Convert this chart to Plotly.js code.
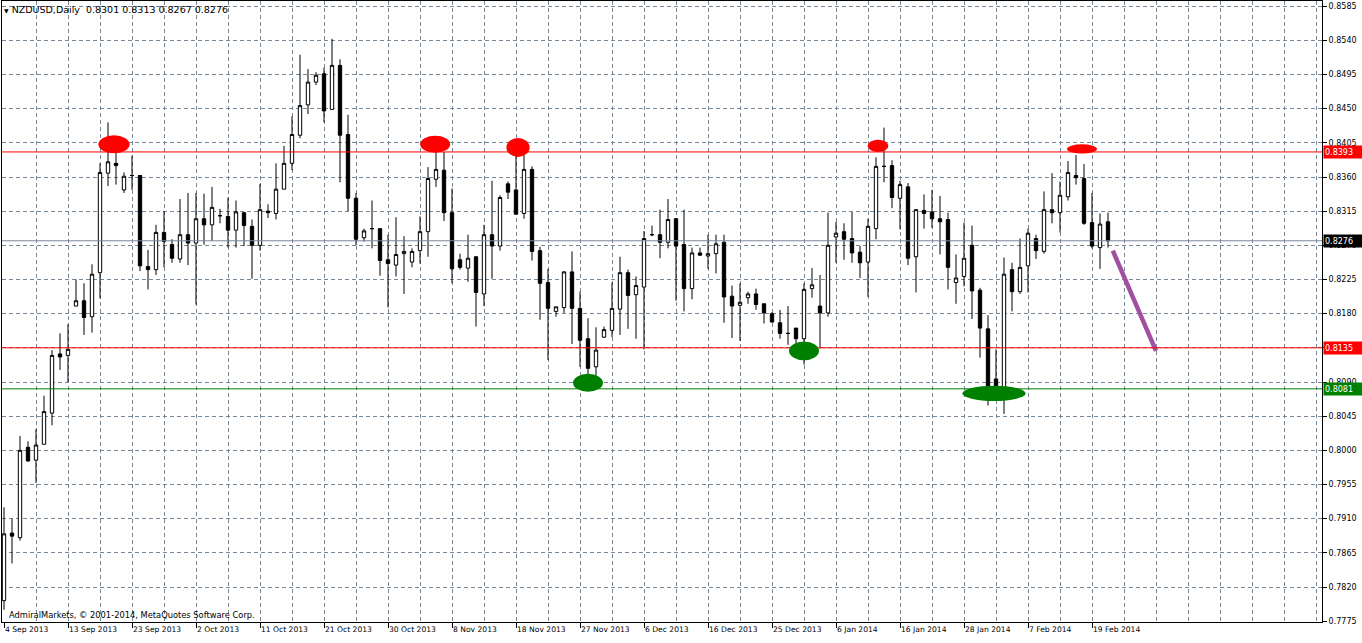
<!DOCTYPE html>
<html>
<head>
<meta charset="utf-8">
<script src="https://cdn.plot.ly/plotly-3.0.1.min.js"></script>
<style>html,body{margin:0;padding:0;background:#fff;}#chart{width:1362px;height:643px;}</style>
</head>
<body>
<div id="chart"></div>
<script>
// ---- Daily NZDUSD candles (bar index 0 = 4 Sep 2013) ----
const openP = [
0.7802,0.7891,0.7885,0.8004,0.7987,0.8008,0.8049,0.8127,0.8125,0.8190,
0.8197,0.8176,0.8234,0.8365,0.8378,0.8343,0.8362,0.8362,0.8242,0.8238,
0.8287,0.8271,0.8252,0.8284,0.8273,0.8305,0.8297,0.8309,0.8308,0.8290,
0.8313,0.8295,0.8270,0.8315,0.8312,0.8344,0.8378,0.8415,0.8455,0.8485,
0.8496,0.8449,0.8507,0.8416,0.8332,0.8280,0.8292,0.8292,0.8251,0.8244,
0.8259,0.8248,0.8263,0.8288,0.8357,0.8369,0.8313,0.8251,0.8240,0.8255,
0.8206,0.8284,0.8269,0.8351,0.8343,0.8312,0.8370,0.8263,0.8221,0.8183,
0.8188,0.8235,0.8187,0.8147,0.8110,0.8149,0.8158,0.8186,0.8234,0.8205,
0.8215,0.8284,0.8284,0.8274,0.8305,0.8271,0.8213,0.8260,0.8256,0.8259,
0.8274,0.8203,0.8191,0.8201,0.8206,0.8193,0.8180,0.8168,0.8154,0.8161,
0.8147,0.8213,0.8190,0.8181,0.8281,0.8288,0.8279,0.8261,0.8248,0.8292,
0.8374,0.8375,0.8332,0.8347,0.8255,0.8316,0.8314,0.8305,0.8304,0.8221,
0.8229,0.8270,0.8211,0.8160,0.8094,0.8079,0.8238,0.8209,0.8243,0.8279,
0.8262,0.8317,0.8313,0.8334,0.8362,0.8358,0.8300,0.8267,0.8301];
const highP = [
0.7925,0.7910,0.8019,0.8012,0.8028,0.8072,0.8132,0.8154,0.8166,0.8225,
0.8220,0.8245,0.8378,0.8432,0.8396,0.8366,0.8388,0.8362,0.8264,0.8297,
0.8315,0.8278,0.8331,0.8339,0.8339,0.8338,0.8347,0.8318,0.8333,0.8329,
0.8314,0.8304,0.8351,0.8324,0.8378,0.8401,0.8440,0.8521,0.8502,0.8498,
0.8504,0.8542,0.8515,0.8442,0.8339,0.8292,0.8329,0.8292,0.8284,0.8307,
0.8282,0.8266,0.8308,0.8373,0.8411,0.8393,0.8345,0.8259,0.8284,0.8255,
0.8297,0.8355,0.8336,0.8354,0.8409,0.8389,0.8374,0.8268,0.8239,0.8189,
0.8236,0.8262,0.8209,0.8174,0.8162,0.8163,0.8221,0.8255,0.8238,0.8229,
0.8289,0.8296,0.8317,0.8331,0.8306,0.8317,0.8267,0.8267,0.8284,0.8284,
0.8284,0.8217,0.8220,0.8209,0.8213,0.8193,0.8182,0.8185,0.8190,0.8161,
0.8220,0.8240,0.8231,0.8313,0.8301,0.8299,0.8314,0.8269,0.8305,0.8386,
0.8425,0.8382,0.8355,0.8352,0.8317,0.8337,0.8343,0.8335,0.8313,0.8258,
0.8300,0.8296,0.8214,0.8178,0.8133,0.8254,0.8247,0.8279,0.8292,0.8284,
0.8341,0.8365,0.8354,0.8381,0.8389,0.8377,0.8339,0.8312,0.8313];
const lowP = [
0.7790,0.7851,0.7881,0.7985,0.7957,0.8008,0.8033,0.8106,0.8090,0.8190,
0.8152,0.8155,0.8200,0.8348,0.8350,0.8339,0.8343,0.8236,0.8212,0.8231,
0.8241,0.8247,0.8247,0.8244,0.8192,0.8271,0.8276,0.8299,0.8267,0.8267,
0.8269,0.8226,0.8263,0.8306,0.8304,0.8344,0.8369,0.8411,0.8443,0.8481,
0.8432,0.8449,0.8353,0.8315,0.8270,0.8275,0.8266,0.8230,0.8188,0.8229,
0.8206,0.8241,0.8246,0.8255,0.8347,0.8302,0.8220,0.8238,0.8222,0.8163,
0.8190,0.8226,0.8263,0.8331,0.8311,0.8305,0.8250,0.8172,0.8119,0.8176,
0.8181,0.8140,0.8110,0.8082,0.8080,0.8148,0.8149,0.8152,0.8160,0.8147,
0.8133,0.8282,0.8253,0.8266,0.8197,0.8183,0.8199,0.8256,0.8239,0.8233,
0.8168,0.8148,0.8144,0.8193,0.8185,0.8167,0.8168,0.8147,0.8139,0.8139,
0.8113,0.8201,0.8134,0.8176,0.8247,0.8251,0.8247,0.8227,0.8202,0.8278,
0.8353,0.8319,0.8291,0.8244,0.8208,0.8292,0.8293,0.8258,0.8212,0.8193,
0.8216,0.8173,0.8122,0.8059,0.8067,0.8048,0.8183,0.8206,0.8208,0.8252,
0.8259,0.8299,0.8287,0.8329,0.8350,0.8297,0.8266,0.8239,0.8267];
const closeP = [
0.7890,0.7887,0.8000,0.7986,0.8007,0.8051,0.8125,0.8123,0.8133,0.8197,
0.8175,0.8232,0.8366,0.8380,0.8375,0.8361,0.8362,0.8243,0.8238,0.8287,
0.8275,0.8253,0.8284,0.8273,0.8305,0.8297,0.8320,0.8309,0.8290,0.8314,
0.8296,0.8270,0.8317,0.8313,0.8344,0.8378,0.8416,0.8454,0.8485,0.8494,
0.8447,0.8507,0.8415,0.8332,0.8278,0.8289,0.8292,0.8250,0.8246,0.8258,
0.8262,0.8262,0.8288,0.8358,0.8370,0.8313,0.8239,0.8241,0.8253,0.8208,
0.8284,0.8269,0.8333,0.8340,0.8311,0.8370,0.8262,0.8220,0.8187,0.8189,
0.8235,0.8187,0.8145,0.8108,0.8132,0.8159,0.8187,0.8234,0.8204,0.8217,
0.8279,0.8284,0.8274,0.8304,0.8269,0.8213,0.8260,0.8257,0.8259,0.8272,
0.8202,0.8190,0.8195,0.8206,0.8192,0.8181,0.8169,0.8154,0.8154,0.8147,
0.8212,0.8218,0.8181,0.8270,0.8286,0.8278,0.8260,0.8247,0.8295,0.8374,
0.8374,0.8333,0.8350,0.8253,0.8317,0.8312,0.8305,0.8301,0.8241,0.8227,
0.8253,0.8210,0.8161,0.8082,0.8080,0.8232,0.8209,0.8241,0.8286,0.8263,
0.8317,0.8313,0.8336,0.8366,0.8359,0.8299,0.8269,0.8298,0.8276];

// date labels, one every 8 bars
const dateLabels = ["4 Sep 2013","13 Sep 2013","23 Sep 2013","2 Oct 2013","11 Oct 2013",
  "21 Oct 2013","30 Oct 2013","8 Nov 2013","18 Nov 2013","27 Nov 2013","6 Dec 2013",
  "16 Dec 2013","25 Dec 2013","6 Jan 2014","16 Jan 2014","28 Jan 2014","7 Feb 2014","19 Feb 2014"];

// price scale ticks
const priceTicks = [0.7775,0.7820,0.7865,0.7910,0.7955,0.8000,0.8045,0.8090,0.8135,0.8180,
  0.8225,0.8270,0.8315,0.8360,0.8405,0.8450,0.8495,0.8540,0.8585];

// horizontal levels
const resistanceLevel = 0.8393;
const supportLevel = 0.8135;
const lowLevel = 0.8081;
const lastPrice = 0.8276;

// projected move (bar index, price)
const forecastX = [138.6, 144.0];
const forecastY = [0.8263, 0.8131];

// highlighted tops (red) and bottoms (green): center bar, center price
const topsX = [13.75, 53.9, 64.25, 109.25, 134.75];
const topsY = [0.8403, 0.8403, 0.8399, 0.8401, 0.8397];
const topsW = [3.9, 3.75, 2.9, 2.6, 3.75];
const topsH = [0.00237, 0.00224, 0.0025, 0.0016, 0.0012];
const botsX = [73, 100, 123.75];
const botsY = [0.8089, 0.8131, 0.8075];
const botsW = [3.75, 3.75, 7.9];
const botsH = [0.00237, 0.0025, 0.0020];

// ---- build ----
const idx = openP.map((_, i) => i);
const tickVals = dateLabels.map((_, k) => k * 8);
const gridVals = [];
for (let v = 4; v <= 164; v += 4) gridVals.push(v);
// the price tag of the support level sits exactly on its own scale label
const priceText = priceTicks.map(v => (Math.abs(v - supportLevel) < 1e-6 ? '' : v.toFixed(4)));

const GRID = '#778899';
const traces = [
  {
    type: 'candlestick', x: idx, open: openP, high: highP, low: lowP, close: closeP,
    increasing: {line: {color: '#000', width: 1}, fillcolor: '#fff'},
    decreasing: {line: {color: '#000', width: 1}, fillcolor: '#000'},
    whiskerwidth: 0, hoverinfo: 'skip', showlegend: false
  },
  {
    type: 'scatter', mode: 'lines', x: forecastX, y: forecastY, xaxis: 'x2',
    line: {color: '#A0509F', width: 4.5}, hoverinfo: 'skip', showlegend: false
  }
];

const shapes = [];
function hline(y, color) {
  shapes.push({type: 'line', xref: 'paper', x0: 0, x1: 1, yref: 'y', y0: y, y1: y,
    line: {color: color, width: 1}, layer: 'above'});
}
hline(lastPrice, '#778899');
hline(resistanceLevel, '#FF0000');
hline(supportLevel, '#FF0000');
hline(lowLevel, '#008000');
function ell(cx, cy, w, h, color) {
  shapes.push({type: 'circle', xref: 'x', yref: 'y', x0: cx - w / 2, x1: cx + w / 2,
    y0: cy - h / 2, y1: cy + h / 2, fillcolor: color, line: {color: color, width: 0}, layer: 'above'});
}
topsX.forEach((c, i) => ell(c, topsY[i], topsW[i], topsH[i], '#FF0000'));
botsX.forEach((c, i) => ell(c, botsY[i], botsW[i], botsH[i], '#008000'));

const annotations = [];
function priceTag(y, bg) {
  annotations.push({xref: 'paper', x: 1, xanchor: 'left', xshift: 1, yref: 'y', y: y, yanchor: 'middle',
    text: y.toFixed(4), showarrow: false, bgcolor: bg, borderpad: 1, width: 36, height: 10, align: 'left',
    font: {family: 'DejaVu Sans', size: 8, color: '#fff'}});
}
priceTag(resistanceLevel, '#FF0000');
priceTag(lastPrice, '#000000');
priceTag(supportLevel, '#FF0000');
priceTag(lowLevel, '#008000');
annotations.push({xref: 'paper', yref: 'paper', x: 0, y: 0, xanchor: 'left', yanchor: 'bottom',
  xshift: 5, yshift: 0, showarrow: false,
  text: 'AdmiralMarkets, © 2001-2014, MetaQuotes Software Corp.',
  font: {family: 'DejaVu Sans', size: 8.3, color: '#000'}});

const xr = [-0.25, 164.75];
const layout = {
  width: 1362, height: 643, autosize: false,
  margin: {l: 2, r: 40, t: 1, b: 21, pad: 0},
  paper_bgcolor: '#fff', plot_bgcolor: '#fff', showlegend: false,
  font: {family: 'DejaVu Sans', size: 8, color: '#000'},
  title: {text: '<span style="font-size:6px">▼</span> NZDUSD,Daily  0.8301 0.8313 0.8267 0.8276',
    x: 4 / 1362, xanchor: 'left', y: 1 - 10 / 643, yanchor: 'middle',
    font: {family: 'DejaVu Sans', size: 9.5, color: '#000'}},
  boxgap: 0.4,
  xaxis: {
    range: xr, tickmode: 'array', tickvals: tickVals, ticktext: dateLabels,
    ticks: 'outside', ticklen: 5, tickcolor: '#000', ticklabelposition: 'outside right',
    tickfont: {family: 'DejaVu Sans', size: 7.6, color: '#000'},
    showline: true, mirror: true, linecolor: '#000', linewidth: 1,
    showgrid: false, zeroline: false, rangeslider: {visible: false}, fixedrange: true
  },
  xaxis2: {
    range: xr, overlaying: 'x', tickmode: 'array', tickvals: gridVals, showticklabels: false,
    ticks: '', showgrid: true, gridcolor: GRID, griddash: '4px,3px', gridwidth: 1,
    showline: false, zeroline: false, fixedrange: true
  },
  yaxis: {
    side: 'right', range: [0.77739, 0.85918], tickmode: 'array', tickvals: priceTicks, ticktext: priceText,
    ticks: 'outside', ticklen: 4, tickcolor: '#000',
    tickfont: {family: 'DejaVu Sans', size: 8, color: '#000'},
    showgrid: true, gridcolor: GRID, griddash: '4px,3px', gridwidth: 1,
    showline: true, mirror: true, linecolor: '#000', linewidth: 1, zeroline: false, fixedrange: true
  },
  shapes: shapes,
  annotations: annotations
};

Plotly.newPlot('chart', traces, layout, {displayModeBar: false, staticPlot: true});
</script>
</body>
</html>
